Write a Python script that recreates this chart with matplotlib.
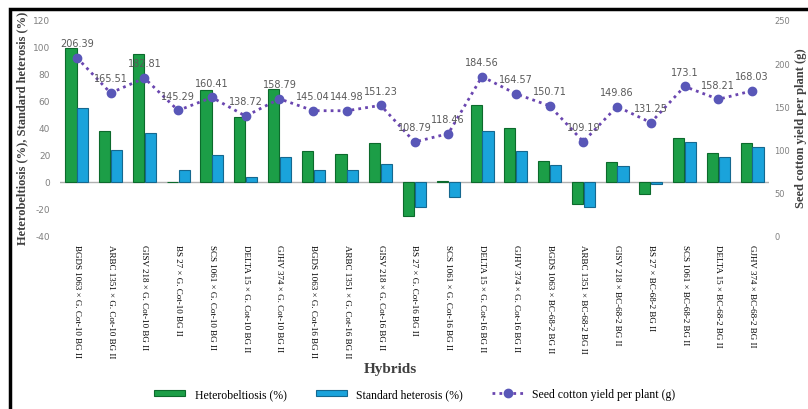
import numpy as np
import matplotlib.pyplot as plt
from matplotlib.patches import Rectangle

hybrids = [
    "BGDS 1063 × G. Cot-10 BG II", "ARBC 1351 × G. Cot-10 BG II",
    "GISV 218 × G. Cot-10 BG II", "BS 27 × G. Cot-10 BG II",
    "SCS 1061 × G. Cot-10 BG II", "DELTA 15 × G. Cot-10 BG II",
    "GJHV 374 × G. Cot-10 BG II", "BGDS 1063 × G. Cot-16 BG II",
    "ARBC 1351 × G. Cot-16 BG II", "GISV 218 × G. Cot-16 BG II",
    "BS 27 × G. Cot-16 BG II", "SCS 1061 × G. Cot-16 BG II",
    "DELTA 15 × G. Cot-16 BG II", "GJHV 374 × G. Cot-16 BG II",
    "BGDS 1063 × BC-68-2 BG II", "ARBC 1351 × BC-68-2 BG II",
    "GISV 218 × BC-68-2 BG II", "BS 27 × BC-68-2 BG II",
    "SCS 1061 × BC-68-2 BG II", "DELTA 15 × BC-68-2 BG II",
    "GJHV 374 × BC-68-2 BG II",
]
heterobeltiosis = [99.5, 38.0, 95.0, 0.3, 67.8, 47.9, 69.2, 23.0, 21.0, 28.7, -25.0,
                   0.4, 56.9, 40.0, 15.2, -16.0, 14.7, -9.2, 32.7, 21.2, 28.7]
std_heterosis = [54.6, 23.7, 36.6, 8.8, 20.0, 3.7, 18.7, 8.7, 8.7, 13.2, -18.7,
                 -11.2, 38.0, 23.0, 12.7, -18.4, 12.0, -1.7, 29.5, 18.2, 25.7]
yield_pp = [206.39, 165.51, 182.81, 145.29, 160.41, 138.72, 158.79, 145.04, 144.98,
            151.23, 108.79, 118.46, 184.56, 164.57, 150.71, 109.19, 149.86, 131.25,
            173.1, 158.21, 168.03]

plt.rcParams["axes.unicode_minus"] = False
serif = "Liberation Serif"
x = np.arange(len(hybrids))
w = 0.33

fig = plt.figure(figsize=(8.08, 4.10), dpi=100)
ax = fig.add_axes([60 / 808, 1 - 237 / 410, 709 / 808, 216 / 410])
ax2 = ax.twinx()

b1 = ax.bar(x - w / 2 - 0.01, heterobeltiosis, w, color="#1c9e47", edgecolor="#0c6a2c",
            linewidth=0.8, label="Heterobeltiosis (%)", zorder=2)
b2 = ax.bar(x + w / 2 + 0.01, std_heterosis, w, color="#1aa3db", edgecolor="#15688f",
            linewidth=0.8, label="Standard heterosis (%)", zorder=2)
ax.axhline(0, color="#b0b0b0", lw=1, zorder=1)

ln, = ax2.plot(x, yield_pp, ls=(0, (1, 1.5)), lw=2, color="#6a46b0", marker="o",
               markersize=6, markerfacecolor="#5957b8", markeredgecolor="#5957b8",
               label="Seed cotton yield per plant (g)")
for xi, yi in zip(x, yield_pp):
    ax2.annotate(f"{yi:g}", (xi, yi), xytext=(0, 7), textcoords="offset points",
                 ha="center", va="bottom", fontsize=7, color="#595959")

ax.set_xlim(-0.5, len(hybrids) - 0.5)
ax.set_ylim(-40, 120)
ax.set_yticks(range(-40, 121, 20))
ax2.set_ylim(0, 250)
ax2.set_yticks(range(0, 251, 50))

for a in (ax, ax2):
    for s in a.spines.values():
        s.set_visible(False)
    a.tick_params(axis="y", length=0, labelsize=6.5, labelcolor="#808080", pad=7)
ax2.tick_params(axis="y", pad=4, labelsize=6)

ax.set_xticks(x)
ax.set_xticklabels(hybrids, rotation=270, fontsize=6.5, family=serif, va="top", ha="center")
ax.tick_params(axis="x", length=0, pad=6)

fig.text(22 / 808, 1 - 128 / 410, "Heterobeltiosis (%), Standard heterosis (%)",
         family=serif, fontweight="bold", fontsize=9, color="#404040",
         rotation=90, ha="center", va="center")
fig.text(801 / 808, 1 - 128 / 410, "Seed cotton yield per plant (g)", family=serif,
         fontweight="bold", fontsize=9, color="#404040", rotation=90,
         ha="center", va="center")
fig.text(390 / 808, 1 - 370 / 410, "Hybrids", family=serif, fontweight="bold",
         fontsize=11, color="#404040", ha="center", va="center")

fig.legend(handles=[b1, b2, ln], loc="center", bbox_to_anchor=(415 / 808, 1 - 395 / 410),
           ncol=3, frameon=False, prop={"family": serif, "size": 8.5},
           handlelength=2.6, handleheight=0.35, columnspacing=2.5)

# outer frame of the original figure
fig.patches.append(Rectangle((10 / 808, -0.05), 1.1, 1 - 10 / 410 + 0.05,
                             transform=fig.transFigure, fill=False, lw=2.5,
                             edgecolor="black"))

fig.savefig("out.png", dpi=100)
